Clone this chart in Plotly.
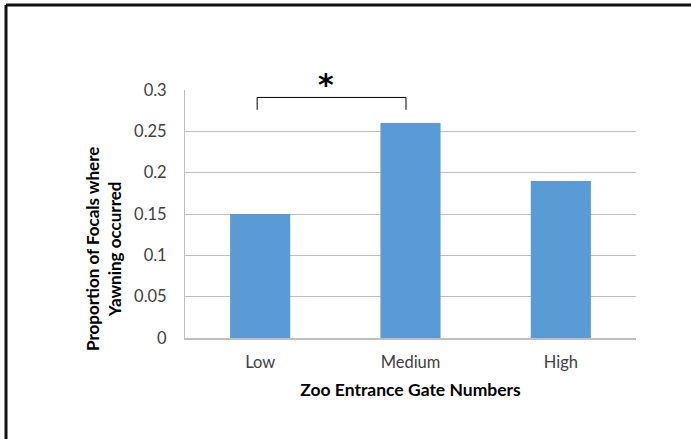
import plotly.graph_objects as go

categories = ["Low", "Medium", "High"]
values = [0.15, 0.26, 0.19]
y_ticks = [0, 0.05, 0.1, 0.15, 0.2, 0.25, 0.3]
y_tick_labels = ["0", "0.05", "0.1", "0.15", "0.2", "0.25", "0.3"]

W, H = 691, 439
L, R, T, B = 185, 55, 90, 101
pw, ph = W - L - R, H - T - B

def px(x):
    return (x - L) / pw

def py(y):
    return (H - B - y) / ph

FONT = "Lato, Open Sans, sans-serif"

fig = go.Figure(go.Bar(x=categories, y=values, marker=dict(color="#5B9BD5", line=dict(width=0)), width=0.4))

shapes = [
    # significance bracket (data coords)
    dict(type="line", xref="x", yref="y", x0=-0.02, x1=0.97, y0=0.291, y1=0.291, line=dict(color="#000", width=1)),
    dict(type="line", xref="x", yref="y", x0=-0.02, x1=-0.02, y0=0.291, y1=0.276, line=dict(color="#000", width=1)),
    dict(type="line", xref="x", yref="y", x0=0.97, x1=0.97, y0=0.291, y1=0.276, line=dict(color="#000", width=1)),
    # outer border (top and left)
    dict(type="line", xref="paper", yref="paper", x0=px(6), x1=px(700), y0=py(5), y1=py(5), line=dict(color="#111", width=3)),
    dict(type="line", xref="paper", yref="paper", x0=px(6), x1=px(6), y0=py(5), y1=py(445), line=dict(color="#111", width=3)),
]

annotations = [
    dict(text="<b>*</b>", xref="paper", yref="paper", x=px(326), y=py(85), showarrow=False,
         xanchor="center", yanchor="middle",
         font=dict(family="DejaVu Sans", size=30, color="#000")),
    dict(text="<b>Proportion of Focals where<br>Yawning occurred</b>", xref="paper", yref="paper",
         x=px(103), y=py(249), textangle=-90, showarrow=False, xanchor="center", yanchor="middle",
         font=dict(family=FONT, size=17, color="#000")),
]

fig.update_layout(
    width=W, height=H,
    margin=dict(l=L, r=R, t=T, b=B, autoexpand=False),
    paper_bgcolor="white", plot_bgcolor="white",
    showlegend=False,
    shapes=shapes, annotations=annotations,
    xaxis=dict(
        showgrid=False, showline=True, linecolor="#bfbfbf", linewidth=1.5,
        ticks="", ticklabelstandoff=8, tickfont=dict(family=FONT, size=16.5, color="#404040"),
        title=dict(text="<b>Zoo Entrance Gate Numbers</b>", font=dict(family=FONT, size=17.5, color="#000"), standoff=13),
    ),
    yaxis=dict(
        range=[0, 0.3], tickvals=y_ticks, ticktext=y_tick_labels,
        showgrid=True, gridcolor="#bfbfbf", gridwidth=1,
        showline=True, linecolor="#bfbfbf", linewidth=1, zeroline=False,
        ticks="", ticklabelstandoff=14,
        tickfont=dict(family=FONT, size=16.5, color="#404040"),
    ),
)

fig.write_html("out.html", config={"displayModeBar": False},
               post_script="document.body.style.margin='0';document.body.style.padding='0';")
